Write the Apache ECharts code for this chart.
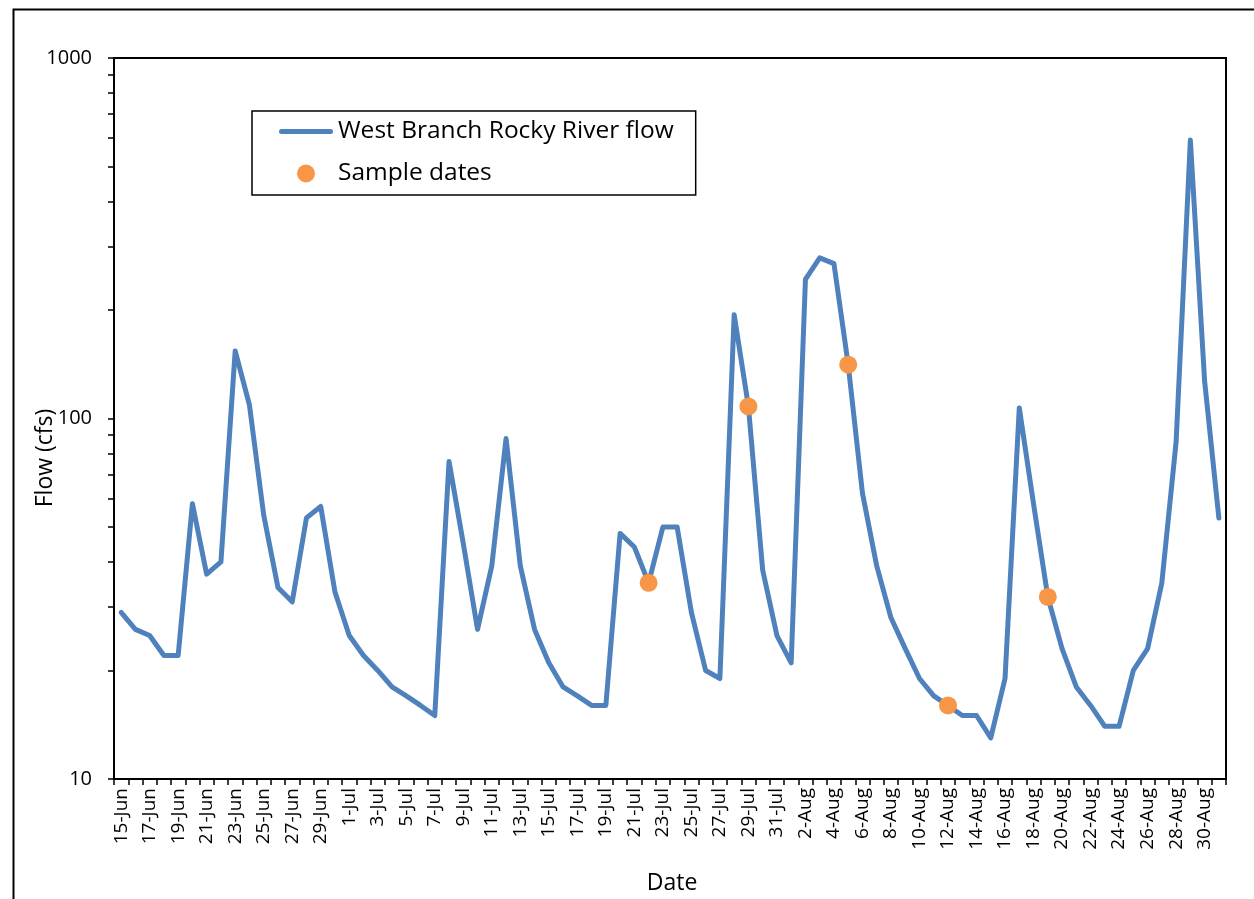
<!DOCTYPE html>
<html>
<head>
<meta charset="utf-8">
<script src="https://cdn.jsdelivr.net/npm/echarts@6/dist/echarts.min.js"></script>
<style>
html,body{margin:0;padding:0;background:#fff;}
#chart{width:1254px;height:899px;}
</style>
</head>
<body>
<div id="chart"></div>
<script>
const dates = [
  '15-Jun','16-Jun','17-Jun','18-Jun','19-Jun','20-Jun','21-Jun','22-Jun','23-Jun','24-Jun',
  '25-Jun','26-Jun','27-Jun','28-Jun','29-Jun','30-Jun',
  '1-Jul','2-Jul','3-Jul','4-Jul','5-Jul','6-Jul','7-Jul','8-Jul','9-Jul','10-Jul',
  '11-Jul','12-Jul','13-Jul','14-Jul','15-Jul','16-Jul','17-Jul','18-Jul','19-Jul','20-Jul',
  '21-Jul','22-Jul','23-Jul','24-Jul','25-Jul','26-Jul','27-Jul','28-Jul','29-Jul','30-Jul','31-Jul',
  '1-Aug','2-Aug','3-Aug','4-Aug','5-Aug','6-Aug','7-Aug','8-Aug','9-Aug','10-Aug',
  '11-Aug','12-Aug','13-Aug','14-Aug','15-Aug','16-Aug','17-Aug','18-Aug','19-Aug','20-Aug',
  '21-Aug','22-Aug','23-Aug','24-Aug','25-Aug','26-Aug','27-Aug','28-Aug','29-Aug','30-Aug','31-Aug'
];
const flow = [
  29, 26, 25, 22, 22, 58, 37, 40, 154, 109,
  54, 34, 31, 53, 57, 33,
  25, 22, 20, 18, 17, 16, 15, 76, 45, 26,
  39, 88, 39, 26, 21, 18, 17, 16, 16, 48,
  44, 35, 50, 50, 29, 20, 19, 194, 108, 38, 25,
  21, 243, 279, 269, 141, 62, 39, 28, 23, 19,
  17, 16, 15, 15, 13, 19, 107, 58, 32, 23,
  18, 16, 14, 14, 20, 23, 35, 86, 592, 127, 53
];
const sampleDates = ['22-Jul', '29-Jul', '5-Aug', '12-Aug', '19-Aug'];
const sampleValues = [35, 108, 141, 16, 32];
const yLabelValues = [10, 100, 1000];
const yTickValues = [10,20,30,40,50,60,70,80,90,100,200,300,400,500,600,700,800,900,1000];

const FONT = 'Open Sans';
const chart = echarts.init(document.getElementById('chart'), null, {renderer: 'canvas'});
chart.setOption({
  animation: false,
  backgroundColor: '#fff',
  textStyle: {fontFamily: FONT, color: '#000'},
  grid: {left: 114, top: 58, right: 28, bottom: 120, show: true, borderColor: '#000', borderWidth: 2, backgroundColor: 'transparent'},
  legend: {
    left: 252, top: 111,
    orient: 'vertical',
    backgroundColor: '#fff',
    borderColor: '#000', borderWidth: 1.5, borderRadius: 0,
    padding: [8, 22, 9, 27],
    itemWidth: 54, itemHeight: 18, itemGap: 17,
    symbolKeepAspect: true,
    textStyle: {fontFamily: FONT, fontSize: 24.5, color: '#000', lineHeight: 24},
    data: [
      {name: 'West Branch Rocky River flow', icon: 'path://M2.5,0 L51.5,0 A2.5,2.5 0 0 1 51.5,5 L2.5,5 A2.5,2.5 0 0 1 2.5,0 Z'},
      {name: 'Sample dates', icon: 'circle'}
    ]
  },
  xAxis: {
    type: 'category',
    data: dates,
    boundaryGap: true,
    axisLine: {lineStyle: {color: '#000', width: 2}},
    axisTick: {show: true, interval: 0, length: 6, lineStyle: {color: '#000', width: 1.5}},
    axisLabel: {interval: 1, rotate: 90, fontSize: 19, color: '#000', margin: 9, fontFamily: FONT},
    splitLine: {show: false}
  },
  yAxis: {
    type: 'log',
    logBase: 10,
    min: 10, max: 1000,
    axisLine: {show: true, lineStyle: {color: '#000', width: 2}},
    axisTick: {show: true, length: 6, inside: false, customValues: yTickValues, lineStyle: {color: '#000', width: 1.5}},
    axisLabel: {fontSize: 20, color: '#000', margin: 22, fontFamily: FONT, customValues: yLabelValues,
      formatter: function (v) { return String(Math.round(v)); }},
    splitLine: {show: false},
    minorTick: {show: false}
  },
  graphic: [
    {type: 'rect', left: 11, top: 7, shape: {width: 1400, height: 1000}, style: {fill: 'none', stroke: '#000', lineWidth: 2}, silent: true, z: -10},
    {type: 'text', x: 45, y: 458, rotation: Math.PI / 2,
     style: {text: 'Flow (cfs)', fontFamily: FONT, fontSize: 23, fill: '#000', align: 'center', verticalAlign: 'middle'}},
    {type: 'text', x: 672, y: 883,
     style: {text: 'Date', fontFamily: FONT, fontSize: 23, fill: '#000', align: 'center', verticalAlign: 'middle'}}
  ],
  series: [
    {
      name: 'West Branch Rocky River flow',
      type: 'line',
      data: flow,
      symbol: 'none',
      lineStyle: {color: '#4F81BD', width: 5, join: 'round', cap: 'round'},
      itemStyle: {color: '#4F81BD'},
      z: 2
    },
    {
      name: 'Sample dates',
      type: 'scatter',
      data: sampleDates.map((d, i) => [d, sampleValues[i]]),
      symbol: 'circle',
      symbolSize: 18,
      itemStyle: {color: '#F79646', opacity: 1},
      z: 3
    }
  ]
});
</script>
</body>
</html>
